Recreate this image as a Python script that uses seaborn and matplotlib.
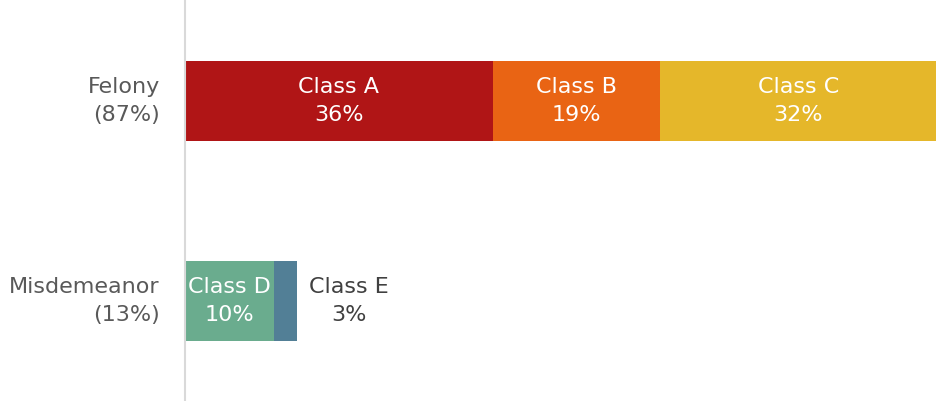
import matplotlib
matplotlib.use("Agg")
import matplotlib.pyplot as plt
import pandas as pd
import seaborn as sns

sns.set_theme(style="white")
plt.rcParams["font.family"] = ["DejaVu Sans"]

groups = ["Felony", "Misdemeanor"]
group_shares = [87, 13]
segment_group = ["Felony", "Felony", "Felony", "Misdemeanor", "Misdemeanor"]
segment_names = ["Class A", "Class B", "Class C", "Class D", "Class E"]
segment_values = [35.6, 19.3, 32.1, 10.3, 2.7]
segment_labels = ["36%", "19%", "32%", "10%", "3%"]
segment_colors = ["#B01516", "#E96414", "#E5B72A", "#6AAC8E", "#527F96"]

df = pd.DataFrame({"group": segment_group, "name": segment_names,
                   "value": segment_values, "label": segment_labels,
                   "color": segment_colors})
df["right"] = df.groupby("group")["value"].cumsum()
df["left"] = df["right"] - df["value"]

fig, ax = plt.subplots(figsize=(9.37, 4.01), dpi=100)
fig.subplots_adjust(left=185 / 937, right=1.0, top=1.0, bottom=0.0)

# draw cumulative bars from the outermost segment inward so they stack
for _, row in df.iloc[::-1].iterrows():
    sub = pd.DataFrame({"group": [row["group"]], "right": [row["right"]]})
    sns.barplot(data=sub, x="right", y="group", order=groups, orient="h",
                color=row["color"], saturation=1, width=0.4, linewidth=0,
                ax=ax)

fs = 16
pos = {g: i for i, g in enumerate(groups)}
for _, row in df.iterrows():
    y = pos[row["group"]]
    text = f"{row['name']}\n{row['label']}"
    if row["value"] < 5:
        ax.annotate(text, xy=(row["right"], y), xytext=(52, 0),
                    textcoords="offset pixels", ha="center", va="center",
                    fontsize=fs, color="#404040", linespacing=1.5)
    else:
        ax.text(row["left"] + row["value"] / 2, y, text, ha="center",
                va="center", fontsize=fs, color="white", linespacing=1.5)

ax.set_xlim(0, df["right"].max())
ax.set_ylim(1.5, -0.505)
ax.set_yticks(range(len(groups)))
ax.set_yticklabels([f"{g}\n({s}%)" for g, s in zip(groups, group_shares)],
                   fontsize=fs, color="#595959", linespacing=1.5, ha="right",
                   va="center")
ax.tick_params(axis="y", length=0, pad=18)
ax.set_xticks([])
ax.set_xlabel("")
ax.set_ylabel("")
for side in ["top", "right", "bottom"]:
    ax.spines[side].set_visible(False)
ax.spines["left"].set_color("#D9D9D9")
ax.spines["left"].set_linewidth(1.5)

fig.savefig("out.png", dpi=100)
